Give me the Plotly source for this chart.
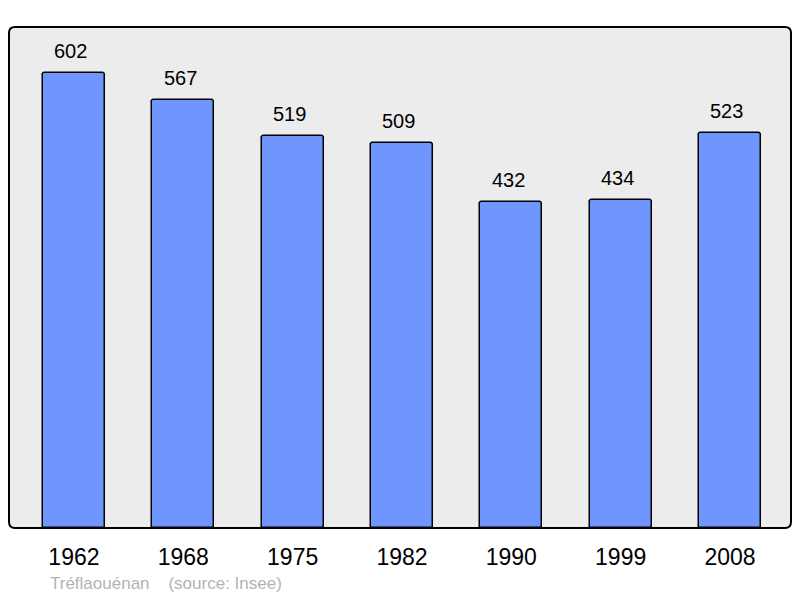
import plotly.graph_objects as go

years = ["1962", "1968", "1975", "1982", "1990", "1999", "2008"]
population = [602, 567, 519, 509, 432, 434, 523]
commune = "Tréflaouénan"
source = "(source: Insee)"

W, H = 800, 598
L, R, T, B = 9, 9, 27, 70
pw, ph = W - L - R, H - T - B
FONT = "Liberation Sans, Arial, sans-serif"

xs = list(range(len(years)))

fig = go.Figure()
fig.add_trace(go.Bar(
    x=xs, y=population, width=0.567,
    marker=dict(color="#6f96ff", line=dict(color="#000000", width=1.5), cornerradius=3),
    hoverinfo="skip",
))

for xi, v in zip(xs, population):
    fig.add_annotation(x=xi, y=v, xref="x", yref="y", text=str(v), showarrow=False,
                       yshift=22, xshift=-3, yanchor="middle",
                       font=dict(family=FONT, size=20, color="#000000"))

# rounded border of plot area
rx, ry = 6 / pw, 6 / ph
path = (f"M {rx},0 L {1-rx},0 Q 1,0 1,{ry} L 1,{1-ry} Q 1,1 {1-rx},1 "
        f"L {rx},1 Q 0,1 0,{1-ry} L 0,{ry} Q 0,0 {rx},0 Z")
fig.add_shape(type="path", path=path, xref="paper", yref="paper",
              line=dict(color="#000000", width=2), layer="above")

fig.add_annotation(
    x=(48 - L) / pw, y=-(583 - (T + ph)) / ph, xref="paper", yref="paper",
    text=f"{commune}&nbsp;&nbsp;&nbsp;&nbsp;{source}", showarrow=False,
    xanchor="left", yanchor="middle",
    font=dict(family=FONT, size=17, color="#b3b3b3"),
)

fig.update_layout(
    width=W, height=H,
    margin=dict(l=L, r=R, t=T, b=B),
    paper_bgcolor="#ffffff", plot_bgcolor="#ececec",
    showlegend=False,
    bargap=0,
    xaxis=dict(range=[-0.594, 6.558], tickvals=xs, ticktext=years,
               showgrid=False, zeroline=False, showline=False, ticks="",
               tickfont=dict(family=FONT, size=23, color="#000000"),
               ticklabelstandoff=13, fixedrange=True),
    yaxis=dict(range=[0, 663], visible=False, showgrid=False, zeroline=False, fixedrange=True),
)

fig.write_html("out.html", config={"displayModeBar": False},
               post_script="document.body.style.margin='0';document.body.style.padding='0';")
